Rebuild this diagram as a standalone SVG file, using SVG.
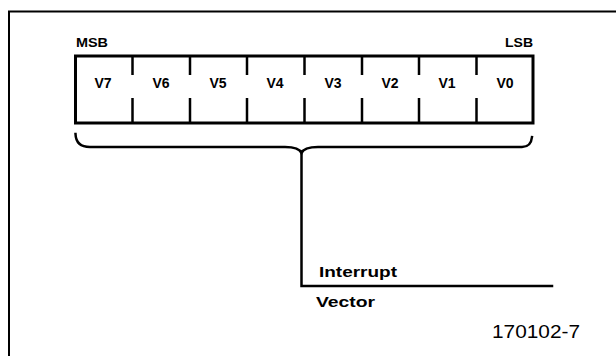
<svg xmlns="http://www.w3.org/2000/svg" width="616" height="356" viewBox="0 0 616 356">
<style>
.b{font-family:"Liberation Sans",Arial,sans-serif;font-weight:bold;fill:#000}
.r{font-family:"Liberation Sans",Arial,sans-serif;fill:#000}
.ln{fill:none;stroke:#000;stroke-linecap:square}
</style>
<rect width="616" height="356" fill="#fff"/>
<g id="frame">
<path class="ln" d="M9,358 V11.5 H620" stroke-width="2"/>
</g>
<g id="labels">
<text class="b" x="76" y="47" font-size="12.5" textLength="32" lengthAdjust="spacingAndGlyphs">MSB</text>
<text class="b" x="505" y="47" font-size="12.5" textLength="28" lengthAdjust="spacingAndGlyphs">LSB</text>
</g>
<g id="register">
<rect class="ln" x="75.5" y="56" width="457.5" height="67" stroke-width="3"/>
<g class="cells" stroke="#000" stroke-width="2.5">
<line x1="132.5" y1="56" x2="132.5" y2="75"/><line x1="132.5" y1="98" x2="132.5" y2="123"/>
<line x1="190" y1="56" x2="190" y2="75"/><line x1="190" y1="98" x2="190" y2="123"/>
<line x1="247" y1="56" x2="247" y2="75"/><line x1="247" y1="98" x2="247" y2="123"/>
<line x1="304.5" y1="56" x2="304.5" y2="75"/><line x1="304.5" y1="98" x2="304.5" y2="123"/>
<line x1="362" y1="56" x2="362" y2="75"/><line x1="362" y1="98" x2="362" y2="123"/>
<line x1="419" y1="56" x2="419" y2="75"/><line x1="419" y1="98" x2="419" y2="123"/>
<line x1="476.5" y1="56" x2="476.5" y2="75"/><line x1="476.5" y1="98" x2="476.5" y2="123"/>
</g>
<g class="b" font-size="14" text-anchor="middle">
<text x="103" y="88">V7</text>
<text x="161" y="88">V6</text>
<text x="218" y="88">V5</text>
<text x="275" y="88">V4</text>
<text x="333" y="88">V3</text>
<text x="390" y="88">V2</text>
<text x="447" y="88">V1</text>
<text x="505" y="88">V0</text>
</g>
</g>
<g id="connectors">
<path class="ln" stroke-width="2.5" d="M75.5,134 Q76,147 90,147 H285 Q299,147 301.5,153 Q304,147 318,147 H522 Q531,147 532,137"/>
<path class="ln" stroke-width="2.5" d="M301.5,153 V286 H552"/>
</g>
<g id="signal">
<text class="b" x="319" y="277" font-size="14" textLength="78" lengthAdjust="spacingAndGlyphs">Interrupt</text>
<text class="b" x="316" y="307" font-size="14" textLength="59" lengthAdjust="spacingAndGlyphs">Vector</text>
</g>
<text class="r" x="492" y="338" font-size="18" textLength="88" lengthAdjust="spacingAndGlyphs">170102-7</text>
</svg>
